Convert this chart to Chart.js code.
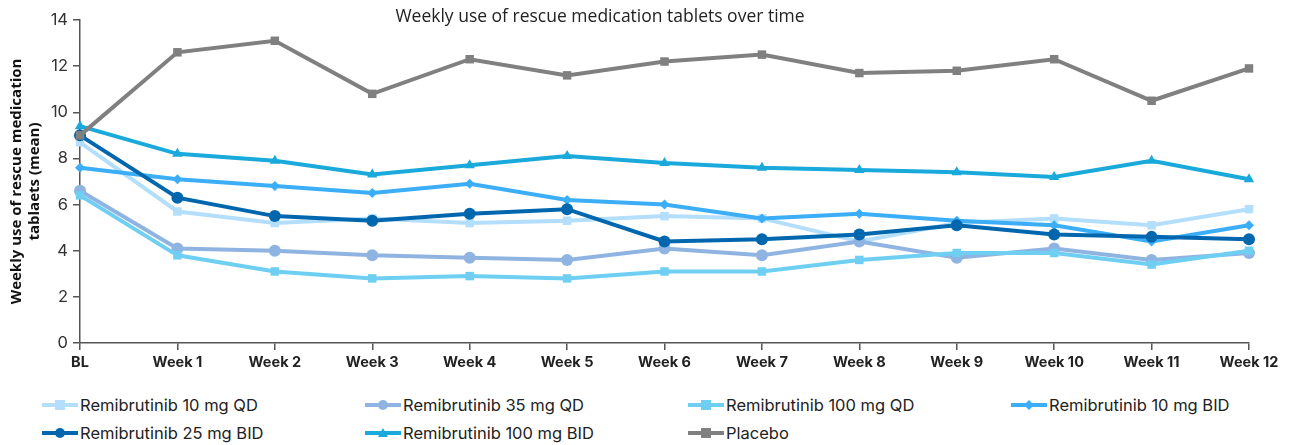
<!DOCTYPE html>
<html>
<head>
<meta charset="utf-8">
<script src="https://cdn.jsdelivr.net/npm/chart.js@4"></script>
<style>
  html, body { margin: 0; padding: 0; background: #fff; }
  #wrap { position: relative; width: 1292px; height: 445px; }
  #box { position: absolute; left: 0; top: 0; width: 1292px; height: 380px; }
  #legend { position: absolute; left: 42px; top: 393px; display: grid;
    grid-template-columns: 323px 323px 323px 260px; row-gap: 5px;
    font-family: Inter, Roboto, "Liberation Sans", sans-serif; font-size: 16.5px; color: #222; }
  .item { display: flex; align-items: center; height: 23px; white-space: nowrap; }
  .sw { position: relative; width: 36px; height: 12px; margin-right: 2px; flex: none; }
  .sw .ln { position: absolute; left: 0; right: 0; top: 4px; height: 4px; }
  .sw .mk { position: absolute; left: 13px; top: 1px; width: 10px; height: 10px; }
</style>
</head>
<body>
<div id="wrap">
  <div id="box"><canvas id="c"></canvas></div>
  <div id="legend"></div>
</div>
<script>
const categories = ["BL","Week 1","Week 2","Week 3","Week 4","Week 5","Week 6","Week 7","Week 8","Week 9","Week 10","Week 11","Week 12"];
const yTicks = [0, 2, 4, 6, 8, 10, 12, 14];
const seriesNames = ["Remibrutinib 10 mg QD","Remibrutinib 35 mg QD","Remibrutinib 100 mg QD","Remibrutinib 10 mg BID","Remibrutinib 25 mg BID","Remibrutinib 100 mg BID","Placebo"];
const remi10QD  = [8.7, 5.7, 5.2, 5.4, 5.2, 5.3, 5.5, 5.4, 4.4, 5.2, 5.4, 5.1, 5.8];
const remi35QD  = [6.6, 4.1, 4.0, 3.8, 3.7, 3.6, 4.1, 3.8, 4.4, 3.7, 4.1, 3.6, 3.9];
const remi100QD = [6.4, 3.8, 3.1, 2.8, 2.9, 2.8, 3.1, 3.1, 3.6, 3.9, 3.9, 3.4, 4.0];
const remi10BID = [7.6, 7.1, 6.8, 6.5, 6.9, 6.2, 6.0, 5.4, 5.6, 5.3, 5.1, 4.4, 5.1];
const remi25BID = [9.0, 6.3, 5.5, 5.3, 5.6, 5.8, 4.4, 4.5, 4.7, 5.1, 4.7, 4.6, 4.5];
const remi100BID = [9.4, 8.2, 7.9, 7.3, 7.7, 8.1, 7.8, 7.6, 7.5, 7.4, 7.2, 7.9, 7.1];
const placebo   = [9.0, 12.6, 13.1, 10.8, 12.3, 11.6, 12.2, 12.5, 11.7, 11.8, 12.3, 10.5, 11.9];

const seriesValues = [remi10QD, remi35QD, remi100QD, remi10BID, remi25BID, remi100BID, placebo];
const colors = ["#B3DEFC", "#8FB4E2", "#6ECFF3", "#3BAEF7", "#0067AF", "#1AA9DB", "#808080"];
const shapes = ["rect", "circle", "rect", "rectRot", "circle", "triangle", "rect"];
const radii  = [6, 6, 6, 5, 6, 6, 6];
const orders = [6, 5, 4, 3, 2, 1, 0];

const datasets = seriesNames.map((n, i) => ({
  label: n,
  data: seriesValues[i],
  borderColor: colors[i],
  backgroundColor: colors[i],
  borderWidth: 4,
  pointStyle: shapes[i],
  pointRadius: radii[i],
  pointHoverRadius: radii[i],
  pointBorderWidth: 0,
  tension: 0,
  order: orders[i]
}));

const titlePlugin = {
  id: 'topTitle',
  afterDraw(chart) {
    const ctx = chart.ctx;
    ctx.save();
    ctx.font = '17.5px "Open Sans", sans-serif';
    ctx.fillStyle = '#222';
    ctx.textAlign = 'center';
    ctx.textBaseline = 'middle';
    ctx.fillText('Weekly use of rescue medication tablets over time', 600, 17);
    ctx.restore();
  }
};

const chart = new Chart(document.getElementById('c'), {
  type: 'line',
  data: { labels: categories, datasets },
  plugins: [titlePlugin],
  options: {
    responsive: true,
    maintainAspectRatio: false,
    animation: false,
    layout: { padding: { top: 20, right: 43, left: 8, bottom: 0 } },
    plugins: { legend: { display: false }, tooltip: { enabled: false } },
    scales: {
      x: {
        offset: false,
        grid: { display: true, drawOnChartArea: false, drawTicks: true, tickLength: 7, color: '#555', lineWidth: 1.5 },
        border: { display: true, color: '#555', width: 1.5 },
        ticks: { color: '#222', font: { family: 'Inter, "Liberation Sans", sans-serif', size: 14.5, weight: 'bold' }, padding: 4, maxRotation: 0, autoSkip: false },
        afterFit(s) { s.height = 37; }
      },
      y: {
        min: 0, max: 14,
        afterBuildTicks(s) { s.ticks = yTicks.map(v => ({ value: v })); },
        grid: { display: true, drawOnChartArea: false, drawTicks: true, tickLength: 7, color: '#555', lineWidth: 1.5 },
        border: { display: true, color: '#555', width: 1.5 },
        ticks: { color: '#333', font: { family: 'Inter, "Liberation Sans", sans-serif', size: 16.5 }, padding: 5 },
        title: { display: true, text: ['Weekly use of rescue medication', 'tablaets (mean)'], color: '#111',
                 font: { family: '"Open Sans", "Liberation Sans", sans-serif', size: 15, weight: 'bold', lineHeight: 1.2 }, padding: 0 },
        afterFit(s) { s.width = 72; }
      }
    }
  }
});

// HTML legend built from the datasets
const lg = document.getElementById('legend');
datasets.forEach((d, i) => {
  const it = document.createElement('div');
  it.className = 'item';
  const sw = document.createElement('div');
  sw.className = 'sw';
  const ln = document.createElement('div');
  ln.className = 'ln'; ln.style.background = d.borderColor;
  const mk = document.createElement('div');
  mk.className = 'mk'; mk.style.background = d.borderColor;
  if (d.pointStyle === 'circle') mk.style.borderRadius = '50%';
  if (d.pointStyle === 'rectRot') { mk.style.transform = 'rotate(45deg) scale(0.7)'; }
  if (d.pointStyle === 'triangle') { mk.style.background = 'transparent'; mk.style.width = '0'; mk.style.height = '0';
    mk.style.borderLeft = '5px solid transparent'; mk.style.borderRight = '5px solid transparent'; mk.style.borderBottom = '9px solid ' + d.borderColor; }
  sw.appendChild(ln); sw.appendChild(mk);
  const tx = document.createElement('span');
  tx.textContent = d.label;
  it.appendChild(sw); it.appendChild(tx);
  lg.appendChild(it);
});
</script>
</body>
</html>
